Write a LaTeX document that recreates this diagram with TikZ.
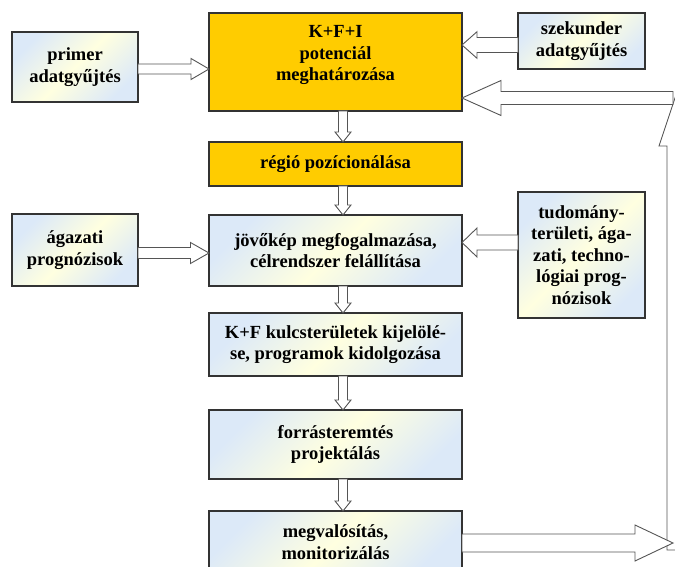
\documentclass[tikz,border=0pt]{standalone}
\usepackage{fontspec}
\setmainfont{Liberation Serif}
\usetikzlibrary{calc}

\definecolor{boxgold}{HTML}{FFCC00}
\definecolor{paleblue}{HTML}{DCE9F8}
\definecolor{paleyellow}{HTML}{FFFFE0}
\definecolor{edgedark}{HTML}{333333}
\definecolor{arrowedge}{HTML}{555555}

% hollow block arrows: tail point, tip point, centre line, shaft half-width, head half-width, head length
\newcommand\blockR[6]{%
  \draw[barrow] (#1 |- 0,#3-#4) -- ($(#2 |- 0,#3-#4)+(-#6,0)$) -- ($(#2 |- 0,#3-#5)+(-#6,0)$)
    -- (#2 |- 0,#3) -- ($(#2 |- 0,#3+#5)+(-#6,0)$) -- ($(#2 |- 0,#3+#4)+(-#6,0)$)
    -- (#1 |- 0,#3+#4) -- cycle;}
\newcommand\blockL[6]{%
  \draw[barrow] (#1 |- 0,#3-#4) -- ($(#2 |- 0,#3-#4)+(#6,0)$) -- ($(#2 |- 0,#3-#5)+(#6,0)$)
    -- (#2 |- 0,#3) -- ($(#2 |- 0,#3+#5)+(#6,0)$) -- ($(#2 |- 0,#3+#4)+(#6,0)$)
    -- (#1 |- 0,#3+#4) -- cycle;}
\newcommand\blockD[6]{%
  \draw[barrow] (#3-#4,0 |- #1) -- ($(#3-#4,0 |- #2)+(0,-#6)$) -- ($(#3-#5,0 |- #2)+(0,-#6)$)
    -- (#3,0 |- #2) -- ($(#3+#5,0 |- #2)+(0,-#6)$) -- ($(#3+#4,0 |- #2)+(0,-#6)$)
    -- (#3+#4,0 |- #1) -- cycle;}
\newcommand\blockU[6]{%
  \draw[barrow] (#3-#4,0 |- #1) -- ($(#3-#4,0 |- #2)+(0,#6)$) -- ($(#3-#5,0 |- #2)+(0,#6)$)
    -- (#3,0 |- #2) -- ($(#3+#5,0 |- #2)+(0,#6)$) -- ($(#3+#4,0 |- #2)+(0,#6)$)
    -- (#3+#4,0 |- #1) -- cycle;}

\tikzset{
  box/.style={draw=edgedark, line width=1.1pt, anchor=north west, inner sep=2pt, outer sep=0pt,
    align=center, font=\fontsize{18.5}{21.5}\selectfont\bfseries},
  goldbox/.style={box, fill=boxgold},
  palebox/.style={box, top color=paleblue, bottom color=paleblue, middle color=paleyellow, shading angle=45},
  txt/.style={align=center, inner sep=0pt, font=\fontsize{18.5}{21.5}\selectfont\bfseries},
  barrow/.style={draw=arrowedge, fill=white, line width=0.9pt, line join=miter},
}

\begin{document}
\begin{tikzpicture}[x=1pt, y=-1pt]
\useasboundingbox (0,0) rectangle (675,567);
\clip (0,0) rectangle (675,567);

% boxes
\node[palebox, minimum width=126pt, minimum height=70pt] (prim) at (12,32) {primer\\adatgyűjtés};
\node[goldbox, minimum width=253pt, minimum height=98pt] (main) at (209,13) {};
\node[txt] (maintext) at ($(main.center)+(0,-7)$) {K+F+I\\potenciál\\meghatározása};
\node[palebox, minimum width=127pt, minimum height=56pt] (szek) at (518,13) {szekunder\\adatgyűjtés};
\node[goldbox, minimum width=253pt, minimum height=44pt] (regio) at (209,142) {régió pozícionálása};
\node[palebox, minimum width=126pt, minimum height=72pt] (agaz) at (12,214) {ágazati\\prognózisok};
\node[palebox, minimum width=253pt, minimum height=71pt] (jovo) at (209,215) {jövőkép megfogalmazása,\\célrendszer felállítása};
\node[palebox, minimum width=127pt, minimum height=126pt] (tudo) at (518,192) {tudomány-\\területi, ága-\\zati, techno-\\lógiai prog-\\nózisok};
\node[palebox, minimum width=253pt, minimum height=63pt] (kulcs) at (209,313) {K+F kulcsterületek kijelölé-\\se, programok kidolgozása};
\node[palebox, minimum width=253pt, minimum height=69pt] (forras) at (209,410) {forrásteremtés\\projektálás};
\node[palebox, minimum width=253pt, minimum height=62pt] (megv) at (209,511) {megvalósítás,\\monitorizálás};

% ends of the feedback loop on the right
\coordinate (loopbot) at (675,550);
\coordinate (looptop) at (675,98);
\coordinate (fbtail) at (673,98);
\coordinate (outtip) at (673,542);

% inputs from the sides
\blockR{prim.east}{main.west}{69}{5}{10.5}{18}
\blockL{szek.west}{main.east}{45}{7.5}{13.3}{15}
\blockR{agaz.east}{jovo.west}{253}{5.5}{10.5}{18.5}
\blockL{tudo.west}{jovo.east}{242.5}{7.5}{14.5}{15}

% main sequence
\blockD{main.south}{regio.north}{343}{4.5}{8}{10}
\blockD{regio.south}{jovo.north}{343}{4.5}{8}{10}
\blockD{jovo.south}{kulcs.north}{343}{4.5}{8}{10}
\blockD{kulcs.south}{forras.north}{343}{4.5}{8}{10}
\blockD{forras.south}{megv.north}{343}{4.5}{8}{10}

% feedback loop
\blockU{loopbot}{looptop}{675}{8}{16}{48}
\blockL{fbtail}{main.east}{98}{6.5}{17.5}{39}
\blockR{megv.east}{outtip}{543}{9}{18}{38}
\end{tikzpicture}
\end{document}
